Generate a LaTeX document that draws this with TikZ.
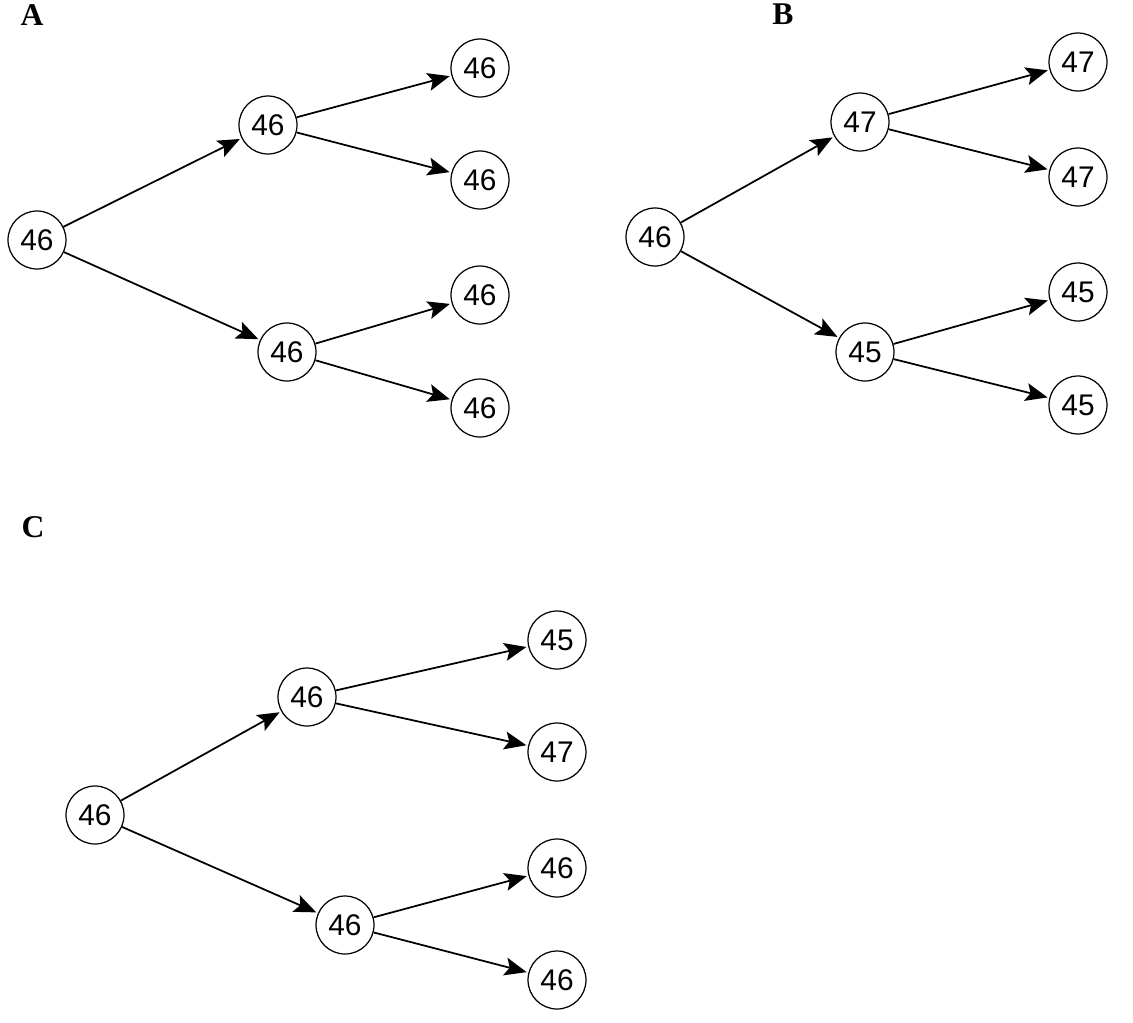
\documentclass[tikz,border=0pt]{standalone}
\usepackage{fontspec}
\setmainfont{Liberation Serif}
\newfontfamily\numfont{Liberation Sans}
\usetikzlibrary{arrows.meta}

\begin{document}
\begin{tikzpicture}[x=0.02cm, y=-0.02cm,
        state/.style={draw, circle, line width=0.7pt, minimum size=1.16cm, inner sep=0pt,
                font=\numfont\fontsize{17}{20}\selectfont},
        tag/.style={font=\bfseries\fontsize{18}{20}\selectfont, inner sep=0pt},
        link/.style={-{Stealth[length=4.4mm, width=3.6mm, inset=0.9mm]}, line width=1pt, shorten >=1pt}]
        \useasboundingbox (0,0) rectangle (1133,1022);
        % tree A
        \node[tag] (ta) at (32,15) {A};
        \node[state] (a0) at (37,240) {46};
        \node[state] (a1) at (268,125) {46};
        \node[state] (a2) at (287,352) {46};
        \node[state] (a11) at (480,68) {46};
        \node[state] (a12) at (480,180) {46};
        \node[state] (a21) at (480,295) {46};
        \node[state] (a22) at (480,408) {46};
        % tree B
        \node[tag] (tb) at (783,14) {B};
        \node[state] (b0) at (655,237) {46};
        \node[state] (b1) at (860,122) {47};
        \node[state] (b2) at (865,352) {45};
        \node[state] (b11) at (1078,62) {47};
        \node[state] (b12) at (1078,177) {47};
        \node[state] (b21) at (1078,292) {45};
        \node[state] (b22) at (1078,405) {45};
        % tree C
        \node[tag] (tc) at (33,527) {C};
        \node[state] (c0) at (95,815) {46};
        \node[state] (c1) at (307,697) {46};
        \node[state] (c2) at (345,925) {46};
        \node[state] (c11) at (557,640) {45};
        \node[state] (c12) at (557,752) {47};
        \node[state] (c21) at (557,868) {46};
        \node[state] (c22) at (557,980) {46};
        % connectors
        \foreach \t in {a, b, c} {
                \draw[link] (\t0) -- (\t1);
                \draw[link] (\t0) -- (\t2);
                \draw[link] (\t1) -- (\t11);
                \draw[link] (\t1) -- (\t12);
                \draw[link] (\t2) -- (\t21);
                \draw[link] (\t2) -- (\t22);
        }
\end{tikzpicture}
\end{document}
